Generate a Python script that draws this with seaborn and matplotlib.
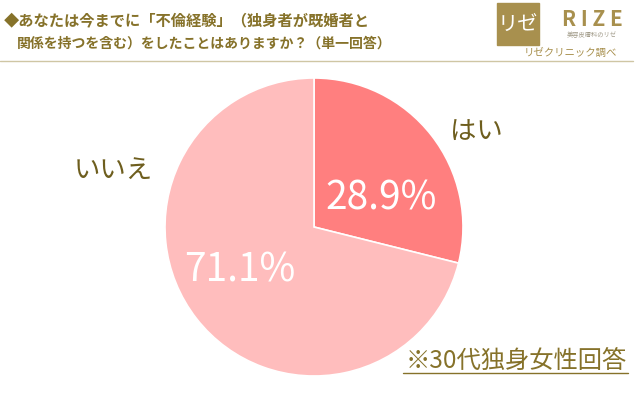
import matplotlib
matplotlib.use("Agg")
import matplotlib.pyplot as plt
from matplotlib.patches import Rectangle
import seaborn as sns

# data
answers = ["はい", "いいえ"]
shares = [28.9, 71.1]
slice_colors = ["#FF7F7F", "#FFBDBD"]

title_lines = ["◆あなたは今までに「不倫経験」（独身者が既婚者と",
               "関係を持つを含む）をしたことはありますか？（単一回答）"]
note = "※30代独身女性回答"

sns.set_theme(style="white")
plt.rcParams['font.family'] = ['Noto Sans CJK JP', 'DejaVu Sans']

W, H = 640, 393
fig = plt.figure(figsize=(6.4, 3.93), dpi=100)

def fx(x):
    return x / W

def fy(y):
    return 1 - y / H

olive = "#86722A"
gold = "#A8904E"

# pie axes: center (314, 227), radius 149 px
r = 149
ax = fig.add_axes([fx(314 - r), fy(227 + r), 2 * r / W, 2 * r / H])
wedges, texts, autotexts = ax.pie(
    shares, labels=answers, colors=slice_colors, startangle=90, counterclock=False,
    autopct="%.1f%%", wedgeprops=dict(edgecolor="white", linewidth=1.2),
    textprops=dict(fontsize=19, color="#6E5E1E"))
ax.set_xlim(-1, 1)
ax.set_ylim(-1, 1)
ax.set_aspect("equal")

for t, pos in zip(texts, [(1.09, 0.64), (-1.35, 0.38)]):
    t.set_position(pos)
    t.set_ha("center")
    t.set_va("center")
for t, pos in zip(autotexts, [(0.45, 0.19), (-0.50, -0.29)]):
    t.set_position(pos)
    t.set_ha("center")
    t.set_va("center")
    t.set_color("white")
    t.set_fontsize(28)

# title
fig.text(fx(4), fy(20), title_lines[0], fontsize=11, fontweight="bold", color=olive,
         ha="left", va="center")
fig.text(fx(17), fy(44), title_lines[1], fontsize=10, fontweight="bold", color=olive,
         ha="left", va="center")
fig.add_artist(plt.Line2D([fx(0), fx(633)], [fy(61), fy(61)], color="#CFC6A4", linewidth=1))

# logo
fig.add_artist(Rectangle((fx(497), fy(45)), 42 / W, 42 / H, color=gold, transform=fig.transFigure))
fig.text(fx(518), fy(24), "リゼ", fontsize=14.5, color="white", ha="center", va="center")
fig.text(fx(592), fy(20), "R I Z E", fontsize=15, fontweight="bold", color=gold,
         ha="center", va="center")
fig.text(fx(592), fy(35), "美容皮膚科のリゼ", fontsize=4.5, color="#A09A88", ha="center", va="center")
fig.text(fx(570), fy(53), "リゼクリニック調べ", fontsize=7.5, color=gold, ha="center", va="center")

# footnote
fig.text(fx(516), fy(361), note, fontsize=17.5, color=olive, ha="center", va="center")
fig.add_artist(plt.Line2D([fx(403), fx(628)], [fy(373), fy(373)], color=olive, linewidth=1))

fig.savefig("out.png", dpi=100, facecolor="white")
